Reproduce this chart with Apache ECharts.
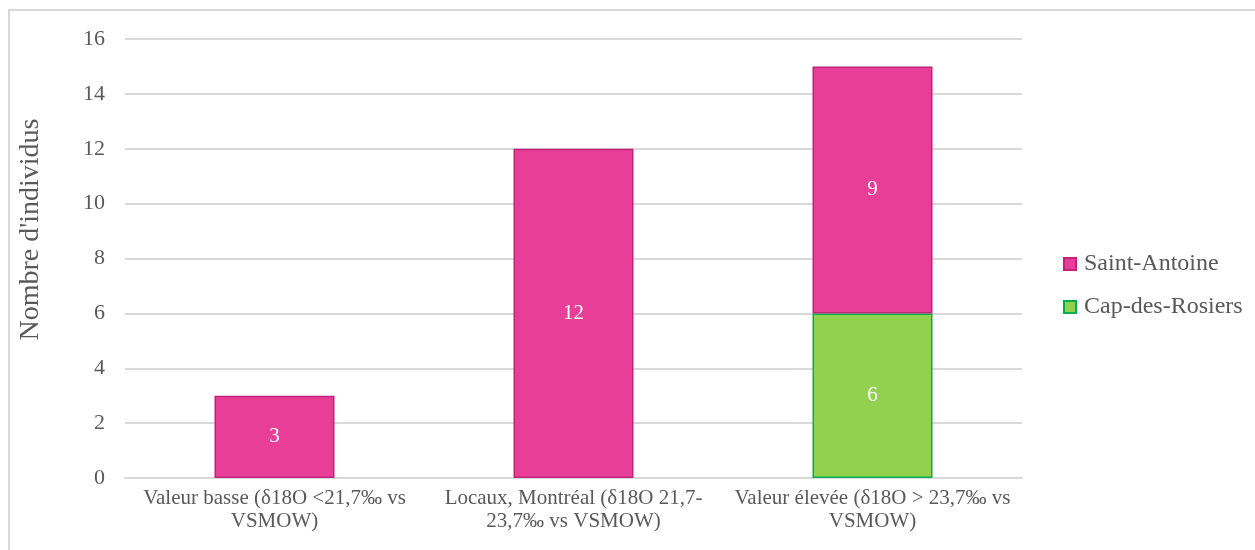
<!DOCTYPE html>
<html>
<head>
<meta charset="utf-8">
<script src="https://cdn.jsdelivr.net/npm/echarts@6/dist/echarts.min.js"></script>
<style>
html,body{margin:0;padding:0;background:#fff;overflow:hidden;}
#frame{position:absolute;left:8px;top:9px;width:1300px;height:600px;border-top:2px solid #d9d9d9;border-left:2px solid #d9d9d9;}
#chart{position:absolute;left:0;top:0;width:1255px;height:550px;}
</style>
</head>
<body>
<div id="frame"></div>
<div id="chart"></div>
<script>
var categories = [
  "Valeur basse (δ18O <21,7‰ vs\nVSMOW)",
  "Locaux, Montréal (δ18O 21,7-\n23,7‰ vs VSMOW)",
  "Valeur élevée (δ18O > 23,7‰ vs\nVSMOW)"
];
var capDesRosiers = [null, null, 6];
var saintAntoine = [3, 12, 9];
var yTicks = [0, 2, 4, 6, 8, 10, 12, 14, 16];

var font = "'Liberation Serif', 'Times New Roman', serif";
var chart = echarts.init(document.getElementById('chart'), null, {renderer: 'canvas'});
chart.setOption({
  animation: false,
  backgroundColor: 'transparent',
  textStyle: {fontFamily: font},
  grid: {left: 125, right: 233, top: 39, bottom: 72, containLabel: false},
  legend: {
    orient: 'vertical',
    left: 1058,
    top: 247,
    itemWidth: 12,
    itemHeight: 12,
    itemGap: 19,
    icon: 'rect',
    textStyle: {fontFamily: font, fontSize: 24, color: '#595959', padding: [0, 0, 0, 3]},
    data: ['Saint-Antoine', 'Cap-des-Rosiers']
  },
  xAxis: {
    type: 'category',
    data: categories,
    axisLine: {show: true, lineStyle: {color: '#d9d9d9', width: 2}},
    axisTick: {show: false},
    axisLabel: {fontFamily: font, fontSize: 21, color: '#595959', lineHeight: 23, margin: 9, interval: 0}
  },
  yAxis: {
    type: 'value',
    min: yTicks[0],
    max: yTicks[yTicks.length - 1],
    interval: 2,
    name: "Nombre d'individus",
    nameLocation: 'middle',
    nameGap: 80,
    nameTextStyle: {fontFamily: font, fontSize: 28, color: '#595959', padding: [0, 0, 0, 58]},
    axisLine: {show: false},
    axisTick: {show: false},
    splitLine: {lineStyle: {color: '#d9d9d9', width: 2}},
    axisLabel: {fontFamily: font, fontSize: 22, color: '#595959', margin: 20}
  },
  series: [
    {
      name: 'Cap-des-Rosiers',
      type: 'bar',
      stack: 'total',
      barWidth: 120,
      data: capDesRosiers,
      itemStyle: {color: '#92D050', borderColor: '#00B050', borderWidth: 1.5},
      label: {show: true, position: 'inside', color: '#fff', fontFamily: font, fontSize: 21}
    },
    {
      name: 'Saint-Antoine',
      type: 'bar',
      stack: 'total',
      barWidth: 120,
      data: saintAntoine,
      itemStyle: {color: '#E83E98', borderColor: '#C0247A', borderWidth: 1.5},
      label: {show: true, position: 'inside', color: '#fff', fontFamily: font, fontSize: 21}
    }
  ]
});
</script>
</body>
</html>
